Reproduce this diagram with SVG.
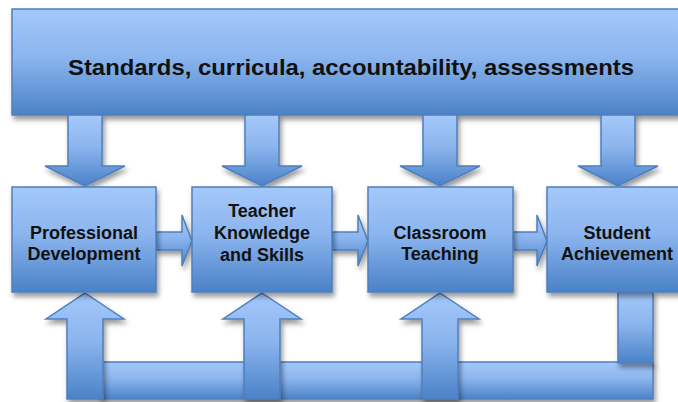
<svg xmlns="http://www.w3.org/2000/svg" width="678" height="402" viewBox="0 0 678 402">
<defs>
  <linearGradient id="g" x1="0" y1="0" x2="0" y2="1">
    <stop offset="0" stop-color="#a4c8fa"/>
    <stop offset="0.45" stop-color="#8cb5ee"/>
    <stop offset="1" stop-color="#4a82c8"/>
  </linearGradient>
  <filter id="sh" x="-10%" y="-10%" width="130%" height="140%">
    <feDropShadow dx="2" dy="4" stdDeviation="2.5" flood-color="#000" flood-opacity="0.4"/>
  </filter>
</defs>
<style>
  .shape { fill: url(#g); stroke: #4f7fbd; stroke-width: 1.5; filter: url(#sh); }
  .lbl { font-family: "Liberation Sans", Arial, sans-serif; font-weight: bold; fill: #111; text-anchor: middle; }
  .box { font-size: 18px; }
  .top { font-size: 22px; }
</style>
<rect width="678" height="402" fill="#ffffff"/>

<g id="connectors">
  <!-- feedback loop -->
  <rect class="shape" x="100" y="362" width="553" height="37"/>
  <rect class="shape" x="618" y="292" width="35" height="71"/>
  <!-- up arrows -->
  <polygon class="shape" points="85,293 124,319 103,319 103,399 67,399 67,319 46,319"/>
  <polygon class="shape" points="262,293 301,319 280,319 280,399 244,399 244,319 223,319"/>
  <polygon class="shape" points="440,293 479,319 458,319 458,399 422,399 422,319 401,319"/>
  <!-- right arrows -->
  <polygon class="shape" points="156,232 182,232 182,215 192,241 182,266 182,250 156,250"/>
  <polygon class="shape" points="332,232 358,232 358,215 368,241 358,266 358,250 332,250"/>
  <polygon class="shape" points="513,232 537,232 537,215 547,241 537,266 537,250 513,250"/>
</g>

<g id="n_top">
  <rect class="shape" x="12" y="9" width="690" height="106"/>
  <text class="lbl top" x="351" y="75" textLength="566" lengthAdjust="spacingAndGlyphs">Standards, curricula, accountability, assessments</text>
</g>

<g id="connectors_down">
  <polygon class="shape" points="68,115 102,115 102,166 125,166 85,186 45,166 68,166"/>
  <polygon class="shape" points="245,115 279,115 279,166 302,166 262,186 222,166 245,166"/>
  <polygon class="shape" points="423,115 457,115 457,166 480,166 440,186 400,166 423,166"/>
  <polygon class="shape" points="601,115 635,115 635,166 658,166 618,186 578,166 601,166"/>
</g>

<g id="n_pd">
  <rect class="shape" x="12" y="187" width="144" height="105"/>
  <text class="lbl box" x="84" y="239">Professional</text>
  <text class="lbl box" x="84" y="260">Development</text>
</g>
<g id="n_tks">
  <rect class="shape" x="192" y="187" width="140" height="105"/>
  <text class="lbl box" x="262" y="217">Teacher</text>
  <text class="lbl box" x="262" y="239">Knowledge</text>
  <text class="lbl box" x="262" y="261">and Skills</text>
</g>
<g id="n_ct">
  <rect class="shape" x="368" y="187" width="145" height="105"/>
  <text class="lbl box" x="440" y="239">Classroom</text>
  <text class="lbl box" x="440" y="260">Teaching</text>
</g>
<g id="n_sa">
  <rect class="shape" x="547" y="187" width="145" height="105"/>
  <text class="lbl box" x="617" y="239">Student</text>
  <text class="lbl box" x="617" y="260">Achievement</text>
</g>
</svg>
